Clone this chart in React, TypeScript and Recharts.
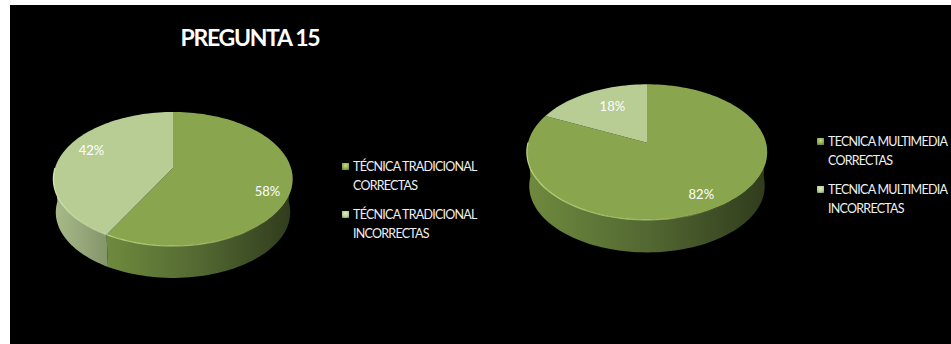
import React from "react";
import { PieChart, Pie, Legend } from "recharts";

const titleText = "PREGUNTA 15";

const tradLabels = ["TÉCNICA TRADICIONAL CORRECTAS", "TÉCNICA TRADICIONAL INCORRECTAS"];
const tradValues = [58, 42];

const multiLabels = ["TECNICA MULTIMEDIA CORRECTAS", "TECNICA MULTIMEDIA INCORRECTAS"];
const multiValues = [82, 18];

const sliceColors = ["#89a64e", "#b7cd94"];
const rimColors = ["#c4de85", "#dfeebd"];
const wallStops = [
  ["#6f8a3e", "#536832", "#303b1c"],
  ["#a9bb8a", "#97a87a", "#84946a"],
];

const FONT = "Lato, 'Open Sans', sans-serif";

const toRows = (labels: string[], values: number[]) =>
  labels.map((name, i) => ({ name, value: values[i], fill: sliceColors[i] }));

// Tilted-disc projection: the disc centre sits above the middle of the ellipse,
// so the near half of the disc reads larger than the far half.
type Tilt = { rx: number; ry: number; k: number; depth: number };

function project(cx: number, cy: number, t: Tilt, deg: number, rho = 1) {
  const a = (deg * Math.PI) / 180;
  const u = Math.sin(a) * rho;
  const v = -Math.cos(a) * rho;
  const w = 1 - t.k * v;
  return { x: cx + (t.rx * u) / w, y: cy + (t.ry * v) / w };
}

function lower(cx: number, cy: number, t: Tilt, p: { x: number; y: number }) {
  return { x: cx + (p.x - cx) * 0.98, y: cy + (p.y - cy) * 0.98 + t.depth };
}

function sweep(from: number, to: number) {
  const out: number[] = [];
  const steps = Math.max(2, Math.ceil((to - from) / 2));
  for (let i = 0; i <= steps; i++) out.push(from + ((to - from) * i) / steps);
  return out;
}

const pathOf = (pts: { x: number; y: number }[]) =>
  pts.map((p, i) => `${i ? "L" : "M"}${p.x.toFixed(2)} ${p.y.toFixed(2)}`).join(" ");

function DiscSlice(props: any, t: Tilt, chartId: string) {
  const { cx, cy, startAngle, endAngle, index } = props;
  const from = 90 - startAngle;
  const to = 90 - endAngle;
  const a0 = Math.min(from, to);
  const a1 = Math.max(from, to);
  const rim = sweep(a0, a1).map((d) => project(cx, cy, t, d));
  const top = pathOf([{ x: cx, y: cy }, ...rim]) + " Z";

  // only the part facing the viewer has a visible side wall
  const w0 = Math.max(a0, 90);
  const w1 = Math.min(a1, 270);
  const hasWall = w1 > w0;
  const wallTop = hasWall ? sweep(w0, w1).map((d) => project(cx, cy, t, d)) : [];
  const wallBottom = wallTop.map((p) => lower(cx, cy, t, p)).reverse();
  const gradId = `${chartId}-wall-${index}`;
  const rimId = `${chartId}-rim-${index}`;
  const stops = wallStops[index];

  return (
    <g>
      {hasWall && (
        <>
          <defs>
            <linearGradient id={gradId} x1="0" y1="0" x2="1" y2="0">
              <stop offset="0%" stopColor={stops[0]} />
              <stop offset="50%" stopColor={stops[1]} />
              <stop offset="100%" stopColor={stops[2]} />
            </linearGradient>
            <linearGradient id={rimId} x1="0" y1="0" x2="1" y2="0">
              <stop offset="0%" stopColor={rimColors[index]} stopOpacity={0.9} />
              <stop offset="55%" stopColor={rimColors[index]} stopOpacity={0.6} />
              <stop offset="85%" stopColor={rimColors[index]} stopOpacity={index === 0 ? 0 : 0.6} />
            </linearGradient>
          </defs>
          <path d={pathOf([...wallTop, ...wallBottom]) + " Z"} fill={`url(#${gradId})`} />
        </>
      )}
      <path d={top} fill={props.fill} />
      {hasWall && <path d={pathOf(wallTop)} fill="none" stroke={`url(#${rimId})`} strokeWidth={1.2} />}
    </g>
  );
}

function LegendList({ payload }: any) {
  return (
    <div style={{ fontFamily: FONT, fontSize: 12.5, letterSpacing: -0.75, lineHeight: "19px", color: "#f0f0f0" }}>
      {(payload || []).map((item: any, i: number) => (
        <div key={i} style={{ position: "relative", paddingLeft: 11, marginBottom: i === 0 ? 10 : 0 }}>
          <span
            style={{
              position: "absolute",
              left: 0,
              top: 6,
              width: 7,
              height: 7,
              background: `radial-gradient(circle at 50% 35%, ${rimColors[i]}, ${item.color} 60%, #5d7035)`,
            }}
          />
          {item.value}
        </div>
      ))}
    </div>
  );
}

type DiscProps = {
  id: string;
  rows: { name: string; value: number; fill: string }[];
  left: number;
  width: number;
  cx: number;
  cy: number;
  tilt: Tilt;
  nudge: number[][];
  legendLeft: number;
  legendTop: number;
  legendWidth: number;
};

function DiscChart({ id, rows, left, width, cx, cy, tilt, nudge, legendLeft, legendTop, legendWidth }: DiscProps) {
  const renderLabel = (p: any) => {
    const pos = project(p.cx, p.cy, tilt, 90 - p.midAngle, 0.8);
    return (
      <text
        x={pos.x + nudge[p.index][0]}
        y={pos.y + nudge[p.index][1]}
        fill="#ffffff"
        fontFamily={FONT}
        fontSize={13}
        textAnchor="middle"
        dominantBaseline="central"
      >
        {p.value}%
      </text>
    );
  };

  return (
    <div style={{ position: "absolute", left, top: 0 }}>
      <PieChart width={width} height={344} margin={{ top: 0, right: 0, bottom: 0, left: 0 }}>
        <Pie
          data={rows}
          dataKey="value"
          nameKey="name"
          cx={cx}
          cy={cy}
          outerRadius={tilt.rx}
          startAngle={90}
          endAngle={-270}
          stroke="none"
          isAnimationActive={false}
          labelLine={false}
          label={renderLabel}
          shape={(p: any) => DiscSlice(p, tilt, id)}
        />
        <Legend
          content={<LegendList />}
          layout="vertical"
          wrapperStyle={{ left: legendLeft, top: legendTop, width: legendWidth, bottom: "auto" }}
        />
      </PieChart>
    </div>
  );
}

export default function App() {
  return (
    <div style={{ position: "fixed", left: 0, top: 0, width: 951, height: 344, overflow: "hidden", background: "#ffffff" }}>
      <div style={{ position: "absolute", left: 10, top: 5, right: 0, bottom: 0, background: "#000000" }} />
      <DiscChart
        id="trad"
        rows={toRows(tradLabels, tradValues)}
        left={0}
        width={510}
        cx={173}
        cy={168}
        tilt={{ rx: 118, ry: 65.2, k: 0.164, depth: 33.5 }}
        nudge={[[0, 10], [7, -5]]}
        legendLeft={342}
        legendTop={157}
        legendWidth={145}
      />
      <DiscChart
        id="multi"
        rows={toRows(multiLabels, multiValues)}
        left={500}
        width={451}
        cx={147}
        cy={142.7}
        tilt={{ rx: 119, ry: 66.5, k: 0.139, depth: 34 }}
        nudge={[[-2, 2], [12, 4]]}
        legendLeft={317}
        legendTop={132}
        legendWidth={134}
      />
      <div
        style={{
          position: "absolute",
          left: 180.5,
          top: 22,
          fontFamily: FONT,
          fontWeight: 700,
          fontSize: 23,
          letterSpacing: -1.3,
          lineHeight: "30px",
          color: "#ffffff",
          whiteSpace: "nowrap",
        }}
      >
        {titleText}
      </div>
    </div>
  );
}
